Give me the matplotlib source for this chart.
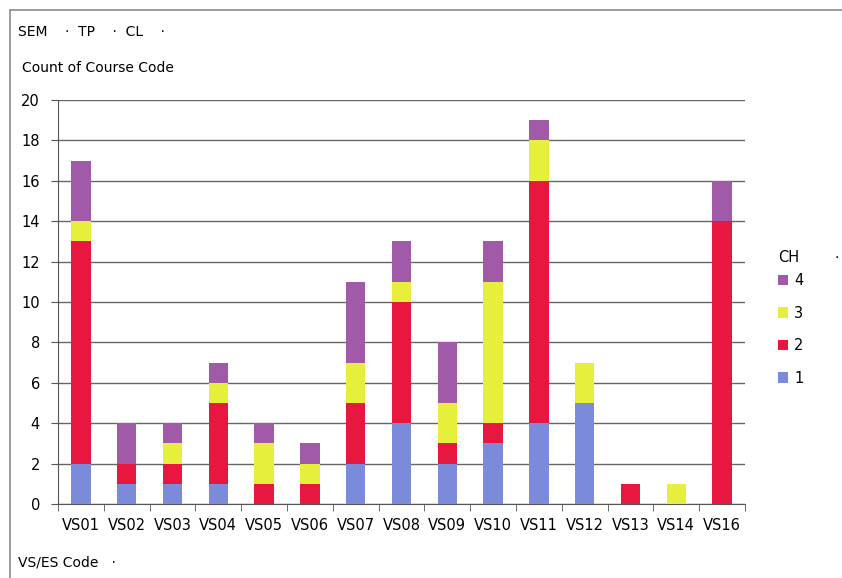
import matplotlib.pyplot as plt
from matplotlib.patches import Rectangle
import numpy as np

codes = ['VS01', 'VS02', 'VS03', 'VS04', 'VS05', 'VS06', 'VS07', 'VS08',
         'VS09', 'VS10', 'VS11', 'VS12', 'VS13', 'VS14', 'VS16']
ch1 = [2, 1, 1, 1, 0, 0, 2, 4, 2, 3, 4, 5, 0, 0, 0]
ch2 = [11, 1, 1, 4, 1, 1, 3, 6, 1, 1, 12, 0, 1, 0, 14]
ch3 = [1, 0, 1, 1, 2, 1, 2, 1, 2, 7, 2, 2, 0, 1, 0]
ch4 = [3, 2, 1, 1, 1, 1, 4, 2, 3, 2, 1, 0, 0, 0, 2]
series = [('1', ch1, '#7b8bd9'), ('2', ch2, '#e8173f'),
          ('3', ch3, '#e6ef3c'), ('4', ch4, '#a05aa8')]

fig = plt.figure(figsize=(8.42, 5.78), dpi=100)
ax = fig.add_axes([58 / 842, 1 - 504 / 578, (745 - 58) / 842, 404 / 578])

# outer frame like the pivot chart border
fig.patches.append(Rectangle((10 / 842, -0.1), 1.2, (1 - 10 / 578) + 0.1,
                             transform=fig.transFigure, fill=False,
                             edgecolor='#8a8a8a', lw=1.2))

x = np.arange(len(codes))
bottom = np.zeros(len(codes))
handles = []
for name, vals, col in series:
    b = ax.bar(x, vals, width=0.42, bottom=bottom, color=col, label=name, zorder=3)
    handles.append(b)
    bottom += np.array(vals)

ax.set_xlim(-0.5, len(codes) - 0.5)
ax.set_ylim(0, 20)
ax.set_yticks(range(0, 21, 2))
ax.set_xticks(x)
ax.set_xticklabels(codes)
ax.set_xticks(np.arange(-0.5, len(codes)), minor=True)
ax.tick_params(axis='x', which='major', length=0, pad=10, labelsize=10.5)
ax.tick_params(axis='x', which='minor', length=5, color='#555555', direction='out')
ax.tick_params(axis='y', length=5, color='#555555', pad=8, labelsize=10.5)
ax.grid(axis='y', color='#666666', lw=1, zorder=0)
for s in ['top', 'right']:
    ax.spines[s].set_visible(False)
for s in ['left', 'bottom']:
    ax.spines[s].set_color('#555555')

leg = ax.legend(handles[::-1], ['4', '3', '2', '1'], frameon=False,
                loc='upper left', bbox_to_anchor=(765 / 842, 1 - 260 / 578),
                bbox_transform=fig.transFigure, handlelength=0.7, handleheight=0.7,
                handletextpad=0.4, labelspacing=1.2, fontsize=10.5)

fig.text(778 / 842, 1 - 258 / 578, 'CH', fontsize=10.5, va='center')
fig.text(18 / 842, 1 - 32 / 578, 'SEM    \u00b7  TP    \u00b7  CL    \u00b7', fontsize=10, va='center')
fig.text(22 / 842, 1 - 68 / 578, 'Count of Course Code', fontsize=10, va='center')
fig.text(18 / 842, 1 - 562 / 578, 'VS/ES Code   \u00b7', fontsize=10, va='center')
fig.text(835 / 842, 1 - 258 / 578, '\u00b7', fontsize=10, va='center')

fig.savefig('out.png', dpi=100)
